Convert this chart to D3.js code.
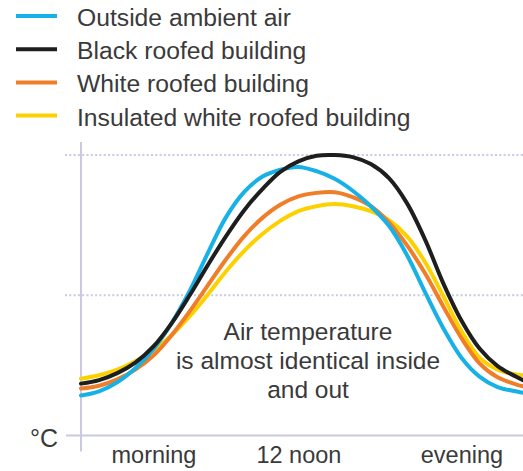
<!DOCTYPE html>
<html>
<head>
<meta charset="utf-8">
<script src="https://cdn.jsdelivr.net/npm/d3@7"></script>
<style>
  html, body { margin: 0; padding: 0; background: #fff; }
  svg { display: block; }
  text { font-family: "Liberation Sans", Arial, Helvetica, sans-serif; fill: #3a3a3a; }
</style>
</head>
<body>
<svg id="chart" width="523" height="471"></svg>
<script>
// ---- data ----
const hours = [6,6.5,7,7.5,8,8.5,9,9.5,10,10.5,11,11.5,12,12.5,13,13.5,14,14.5,15,15.5,16,16.5,17,17.5,18,18.2];
const outsideAir = [5.7,6.3,7.6,9.6,12.3,16.0,20.6,26.0,31.1,34.7,36.9,37.9,38.3,37.7,36.6,34.9,32.7,29.9,25.7,20.4,15.3,11.1,8.4,6.9,6.3,6.1];
const blackRoof  = [7.4,7.9,8.9,10.4,12.7,16.0,20.0,24.3,28.4,32.1,35.1,37.6,39.1,39.9,40.0,39.7,38.7,36.7,33.1,27.9,21.7,16.4,12.4,9.9,8.4,7.9];
const whiteRoof  = [6.7,7.1,8.0,9.4,11.4,14.3,17.7,21.4,25.1,28.4,31.0,32.9,34.1,34.6,34.7,34.0,32.7,30.4,27.1,23.1,18.4,13.9,10.3,8.3,7.3,7.0];
const insulatedWhiteRoof = [8.1,8.6,9.4,10.6,12.1,14.3,17.0,20.1,23.4,26.3,28.7,30.6,32.0,32.7,33.0,32.7,32.0,30.7,28.4,24.7,19.9,14.9,11.1,9.4,8.7,8.6];
const seriesNames = ["Outside ambient air","Black roofed building","White roofed building","Insulated white roofed building"];
const seriesColors = ["#17b1e6","#1e1e1e","#f07d28","#fcd100"];
const tickHours = [8, 12, 16.5];
const tickLabels = ["morning","12 noon","evening"];
const gridValues = [20, 40];
const yUnit = "°C";
const note = ["Air temperature","is almost identical inside","and out"];

// ---- layout ----
const svg = d3.select("#chart");
const x = d3.scaleLinear().domain([6, 18.2]).range([81, 523]);
const y = d3.scaleLinear().domain([0, 40]).range([435.5, 155]);

const axisColor = "#c9c9e4";

// grid lines (dotted)
svg.append("g").selectAll("line").data(gridValues).join("line")
  .attr("x1", x.range()[0] - 16).attr("x2", x.range()[1])
  .attr("y1", d => y(d)).attr("y2", d => y(d))
  .attr("stroke", axisColor).attr("stroke-width", 2)
  .attr("stroke-dasharray", "2,2.3");

// vertical axis
svg.append("line")
  .attr("x1", x.range()[0]).attr("x2", x.range()[0])
  .attr("y1", y(40) - 13).attr("y2", y(0) + 16)
  .attr("stroke", axisColor).attr("stroke-width", 2);

// horizontal axis
svg.append("line")
  .attr("x1", x.range()[0] - 15).attr("x2", x.range()[1])
  .attr("y1", y(0)).attr("y2", y(0))
  .attr("stroke", axisColor).attr("stroke-width", 2);

// x tick labels via d3 axis
const xAxis = d3.axisBottom(x).tickValues(tickHours)
  .tickFormat((d, i) => tickLabels[i]).tickSize(0).tickPadding(0);
const gx = svg.append("g").attr("transform", `translate(0,${y(0)})`).call(xAxis);
gx.select(".domain").remove();
gx.selectAll("text")
  .attr("dy", null).attr("y", 27.5)
  .style("font-family", '"Liberation Sans", Arial, sans-serif')
  .style("font-size", "23.5px").style("fill", "#3a3a3a");

// unit label
svg.append("text")
  .attr("x", 58).attr("y", y(0) + 11.5)
  .attr("text-anchor", "end")
  .style("font-size", "25px")
  .text(yUnit);

// curves
const allSeries = [outsideAir, blackRoof, whiteRoof, insulatedWhiteRoof];
const line = d3.line()
  .x((d, i) => x(hours[i]))
  .y(d => y(d))
  .curve(d3.curveCatmullRom.alpha(0.5));

const drawOrder = [3, 2, 0, 1];
svg.append("g").selectAll("path").data(drawOrder).join("path")
  .attr("d", i => line(allSeries[i]))
  .attr("fill", "none")
  .attr("stroke", i => seriesColors[i])
  .attr("stroke-width", 4)
  .attr("stroke-linecap", "round");

// annotation
const noteG = svg.append("text")
  .attr("text-anchor", "middle")
  .style("font-size", "24.5px");
noteG.selectAll("tspan").data(note).join("tspan")
  .attr("x", 308)
  .attr("y", (d, i) => 339.5 + i * 29.3)
  .text(d => d);

// legend
const legend = svg.append("g").selectAll("g").data(seriesNames).join("g")
  .attr("transform", (d, i) => `translate(0,${16 + i * 33.2})`);
legend.append("line")
  .attr("x1", 16).attr("x2", 57).attr("y1", 0).attr("y2", 0)
  .attr("stroke", (d, i) => seriesColors[i]).attr("stroke-width", 4);
legend.append("text")
  .attr("x", 77).attr("y", 10)
  .style("font-size", "24.7px")
  .text(d => d);
</script>
</body>
</html>
